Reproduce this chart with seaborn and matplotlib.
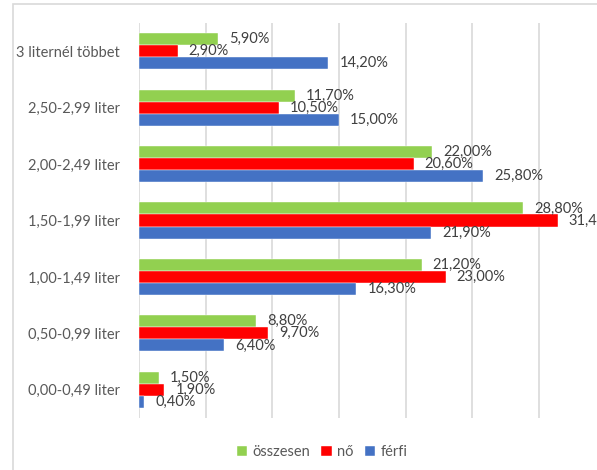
import matplotlib
matplotlib.use("Agg")
import matplotlib.pyplot as plt
from matplotlib.patches import Rectangle
import seaborn as sns
import pandas as pd

categories = [
    "3 liternél többet",
    "2,50-2,99 liter",
    "2,00-2,49 liter",
    "1,50-1,99 liter",
    "1,00-1,49 liter",
    "0,50-0,99 liter",
    "0,00-0,49 liter",
]
series_names = ["összesen", "nő", "férfi"]
osszesen = [5.9, 11.7, 22.0, 28.8, 21.2, 8.8, 1.5]
no = [2.9, 10.5, 20.6, 31.4, 23.0, 9.7, 1.9]
ferfi = [14.2, 15.0, 25.8, 21.9, 16.3, 6.4, 0.4]
colors = ["#92D050", "#FF0000", "#4472C4"]

rows = []
for name, vals in zip(series_names, [osszesen, no, ferfi]):
    for cat, v in zip(categories, vals):
        rows.append({"kategória": cat, "csoport": name, "érték": v})
df = pd.DataFrame(rows)

sns.set_theme(style="white")
plt.rcParams["font.family"] = ["Lato", "DejaVu Sans"]
text_color = "#595959"
grid_color = "#D9D9D9"

W, H = 597, 470
fig = plt.figure(figsize=(W / 100, H / 100), dpi=100)

# outer chart border (runs past the right and bottom edges)
fig.patches.append(Rectangle((13 / W, -0.1), 1.2, 1.1 - 4 / H, transform=fig.transFigure,
                             fill=False, edgecolor=grid_color, linewidth=1.2, zorder=0))

x_per_pct = 13.333
ax = fig.add_axes([139 / W, (H - 418) / H, 35 * x_per_pct / W, 395 / H])

sns.barplot(data=df, y="kategória", x="érték", hue="csoport",
            order=categories, hue_order=series_names, palette=colors,
            saturation=1, orient="h", width=0.64, gap=0,
            edgecolor="white", linewidth=0.3, ax=ax, zorder=3)

for cont, vals in zip(ax.containers, [osszesen, no, ferfi]):
    labels = [f"{v:.2f}%".replace(".", ",") for v in vals]
    ax.bar_label(cont, labels=labels, padding=8, fontsize=10.5, color="#404040")

ax.set_xlim(0, 35)
ax.set_ylim(6.5, -0.5)
ax.set_xticks(range(0, 36, 5))
ax.set_xticklabels([])
ax.xaxis.grid(True, color=grid_color, linewidth=1.2)
ax.yaxis.grid(False)
ax.set_axisbelow(True)
for s in ax.spines.values():
    s.set_visible(False)
ax.tick_params(axis="both", length=0)
ax.tick_params(axis="y", pad=14, labelsize=10.5, labelcolor=text_color)
ax.set_xlabel("")
ax.set_ylabel("")

ax.legend(loc="center", bbox_to_anchor=(322 / W, (H - 452) / H),
          bbox_transform=fig.transFigure, ncol=3, frameon=False,
          handlelength=0.7, handleheight=0.7, handletextpad=0.35, columnspacing=0.8,
          fontsize=10.5, labelcolor=text_color)

fig.savefig("out.png", dpi=100)
